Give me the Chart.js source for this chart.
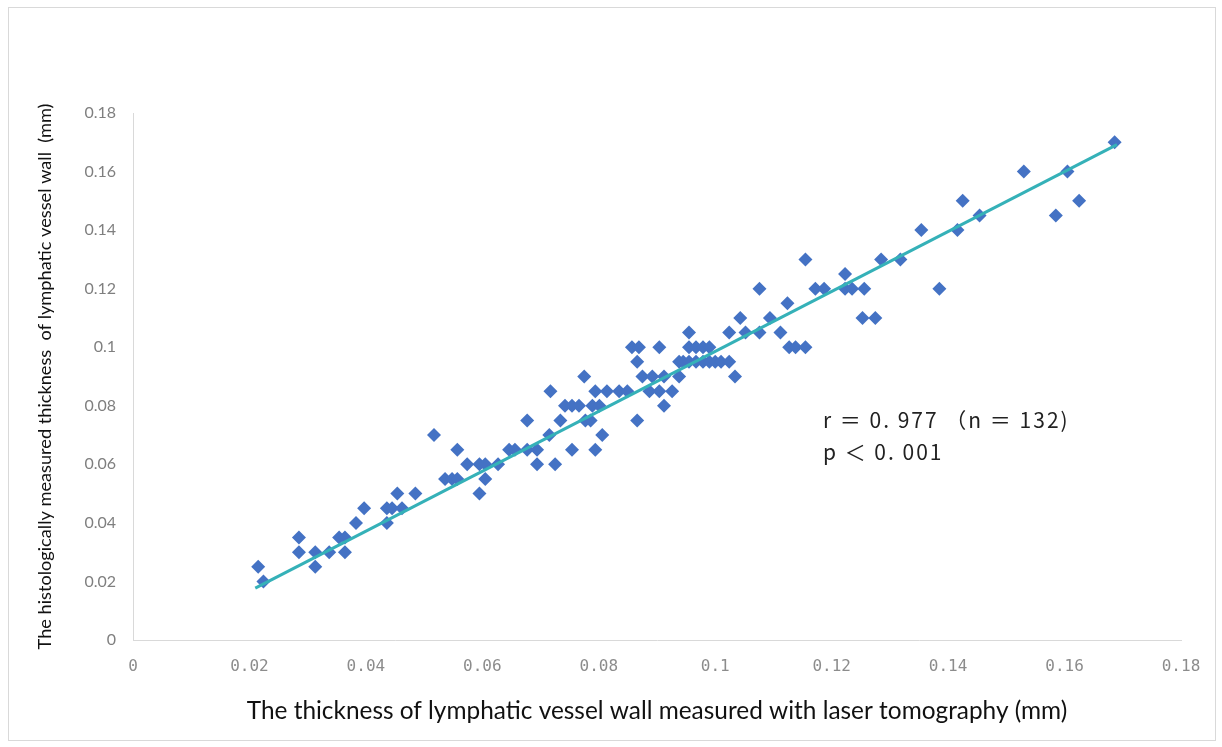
<!DOCTYPE html>
<html>
<head>
<meta charset="utf-8">
<script src="https://cdn.jsdelivr.net/npm/chart.js@4/dist/chart.umd.min.js"></script>
<style>
  html, body { margin: 0; padding: 0; background: #fff; }
  #wrap { position: relative; width: 1222px; height: 747px; }
  #frame { position: absolute; left: 8px; top: 7px; width: 1206px; height: 732px; border: 1px solid #d9d9d9; }
  #chart { position: absolute; left: 0; top: 0; }
</style>
</head>
<body>
<div id="wrap">
  <div id="frame"></div>
  <canvas id="chart" width="1222" height="747"></canvas>
</div>
<script>
// laser tomography thickness (mm)
const xValues = [
  0.0215, 0.0224, 0.0285, 0.0285, 0.0313, 0.0313, 0.0337, 0.0354, 0.0364, 0.0364,
  0.0383, 0.0397, 0.0436, 0.0436, 0.0445, 0.0454, 0.0462, 0.0485, 0.0517, 0.0536,
  0.0548, 0.0557, 0.0557, 0.0574, 0.0595, 0.0595, 0.0605, 0.0605, 0.0627, 0.0646,
  0.0656, 0.0677, 0.0677, 0.0694, 0.0694, 0.0715, 0.0717, 0.0725, 0.0734, 0.0742,
  0.0754, 0.0754, 0.0766, 0.0775, 0.0777, 0.0786, 0.0789, 0.0794, 0.0794, 0.0801,
  0.0806, 0.0814, 0.0835, 0.0849, 0.0857, 0.0866, 0.0866, 0.0869, 0.0875, 0.0887,
  0.0892, 0.0904, 0.0904, 0.0912, 0.0912, 0.0926, 0.0938, 0.0938, 0.0945, 0.0955,
  0.0955, 0.0955, 0.0967, 0.0967, 0.0979, 0.0979, 0.0990, 0.0990, 0.1000, 0.1010,
  0.1024, 0.1024, 0.1034, 0.1043, 0.1052, 0.1076, 0.1076, 0.1094, 0.1112, 0.1124,
  0.1127, 0.1138, 0.1155, 0.1155, 0.1172, 0.1187, 0.1223, 0.1223, 0.1235, 0.1256,
  0.1253, 0.1275, 0.1285, 0.1318, 0.1354, 0.1385, 0.1416, 0.1425, 0.1454, 0.1530,
  0.1585, 0.1605, 0.1625, 0.1686
];
// histological thickness (mm)
const yValues = [
  0.025, 0.020, 0.035, 0.030, 0.025, 0.030, 0.030, 0.035, 0.035, 0.030,
  0.040, 0.045, 0.045, 0.040, 0.045, 0.050, 0.045, 0.050, 0.070, 0.055,
  0.055, 0.055, 0.065, 0.060, 0.060, 0.050, 0.060, 0.055, 0.060, 0.065,
  0.065, 0.075, 0.065, 0.065, 0.060, 0.070, 0.085, 0.060, 0.075, 0.080,
  0.065, 0.080, 0.080, 0.090, 0.075, 0.075, 0.080, 0.065, 0.085, 0.080,
  0.070, 0.085, 0.085, 0.085, 0.100, 0.095, 0.075, 0.100, 0.090, 0.085,
  0.090, 0.100, 0.085, 0.080, 0.090, 0.085, 0.095, 0.090, 0.095, 0.105,
  0.100, 0.095, 0.100, 0.095, 0.100, 0.095, 0.095, 0.100, 0.095, 0.095,
  0.105, 0.095, 0.090, 0.110, 0.105, 0.120, 0.105, 0.110, 0.105, 0.115,
  0.100, 0.100, 0.100, 0.130, 0.120, 0.120, 0.125, 0.120, 0.120, 0.120,
  0.110, 0.110, 0.130, 0.130, 0.140, 0.120, 0.140, 0.150, 0.145, 0.160,
  0.145, 0.160, 0.150, 0.170
];

// linear trendline end points
const trendX = [0.0210, 0.1690];
const trendY = [0.0177, 0.1692];

const tickValues = [0, 0.02, 0.04, 0.06, 0.08, 0.1, 0.12, 0.14, 0.16, 0.18];

const statLines = ['r ＝ 0. 977 （n ＝ 132)', 'p ＜ 0. 001'];
const statPos = { x: 0.1185, y: 0.075 };

const points = xValues.map((x, i) => ({ x: x, y: yValues[i] }));
const trend = trendX.map((x, i) => ({ x: x, y: trendY[i] }));

const fmt = (v) => String(parseFloat(Number(v).toFixed(2)));

const statsPlugin = {
  id: 'stats',
  afterDatasetsDraw(chart) {
    const ctx = chart.ctx;
    const px = chart.scales.x.getPixelForValue(statPos.x);
    const py = chart.scales.y.getPixelForValue(statPos.y);
    ctx.save();
    ctx.fillStyle = '#222';
    ctx.font = '21px "Noto Sans CJK JP"';
    ctx.letterSpacing = '2px';
    ctx.textBaseline = 'middle';
    ctx.textAlign = 'left';
    statLines.forEach((line, i) => {
      ctx.fillText(line, px, py + i * 32);
    });
    ctx.restore();
  },
};

new Chart(document.getElementById('chart'), {
  type: 'scatter',
  data: {
    datasets: [
      {
        label: 'trend',
        data: trend,
        showLine: true,
        borderColor: '#35b1b8',
        borderWidth: 3,
        pointRadius: 0,
        order: 0,
      },
      {
        label: 'measured',
        data: points,
        pointStyle: 'rectRot',
        pointRadius: 7,
        backgroundColor: '#4472c4',
        borderColor: '#4472c4',
        borderWidth: 0,
        order: 1,
      },
    ],
  },
  options: {
    responsive: false,
    animation: false,
    layout: { padding: { top: 113, right: 41, left: 0, bottom: 17 } },
    plugins: { legend: { display: false }, tooltip: { enabled: false } },
    scales: {
      x: {
        type: 'linear',
        min: 0,
        max: 0.18,
        afterBuildTicks: (s) => { s.ticks = tickValues.map((v) => ({ value: v })); },
        afterFit: (s) => { s.height = 90; },
        grid: { display: false, drawTicks: false },
        border: { color: '#d9d9d9', width: 1 },
        ticks: {
          color: '#8c8c8c',
          padding: 17,
          font: { family: '"DejaVu Sans Mono"', size: 16 },
          maxRotation: 0,
          callback: (v) => fmt(v),
        },
        title: {
          display: true,
          text: 'The thickness of lymphatic vessel wall measured with laser tomography (mm)',
          color: '#111',
          font: { family: 'Lato', size: 24.4 },
          padding: { top: 14 },
        },
      },
      y: {
        type: 'linear',
        min: 0,
        max: 0.18,
        afterBuildTicks: (s) => { s.ticks = tickValues.map((v) => ({ value: v })); },
        afterFit: (s) => { s.width = 133; },
        grid: { display: false, drawTicks: false },
        border: { color: '#d9d9d9', width: 1 },
        ticks: {
          color: '#7f7f7f',
          padding: 17,
          font: { family: 'Lato', size: 16 },
          callback: (v) => fmt(v),
        },
        title: {
          display: true,
          text: 'The histologically measured thickness  of lymphatic vessel wall  (mm)',
          color: '#111',
          font: { family: 'Lato', size: 18.2 },
          padding: { bottom: 0, top: 34 },
        },
      },
    },
  },
  plugins: [statsPlugin],
});
</script>
</body>
</html>
